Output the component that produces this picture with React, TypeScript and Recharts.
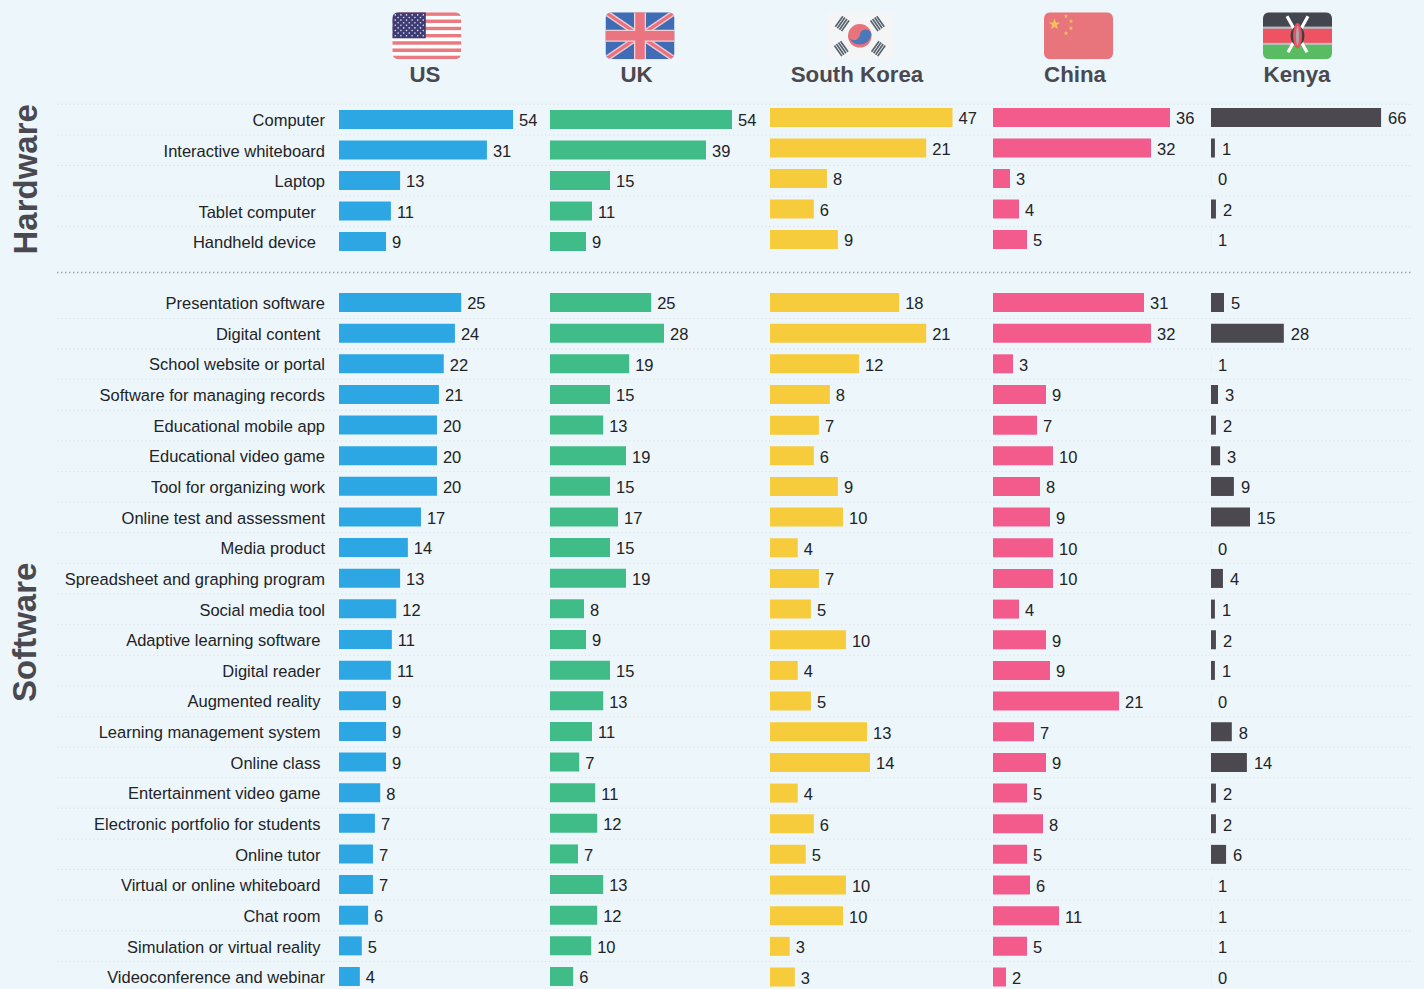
import { Bar, BarChart, CartesianGrid, LabelList, Line, LineChart, ReferenceLine, XAxis, YAxis } from "recharts";

const INK = "#222326";
const HEADING = "#4a494f";
const FONT = '"Liberation Sans", Arial, sans-serif';

// trailing nbsp is in the source labels, it pushes some of them left of the axis
const hardwareItems = [
  "Computer",
  "Interactive whiteboard",
  "Laptop",
  "Tablet computer\u00a0\u00a0",
  "Handheld device\u00a0\u00a0",
];
const softwareItems = [
  "Presentation software",
  "Digital content\u00a0",
  "School website or portal",
  "Software for managing records",
  "Educational mobile app",
  "Educational video game",
  "Tool for organizing work",
  "Online test and assessment",
  "Media product",
  "Spreadsheet and graphing program",
  "Social media tool",
  "Adaptive learning software\u00a0",
  "Digital reader\u00a0",
  "Augmented reality\u00a0",
  "Learning management system\u00a0",
  "Online class\u00a0",
  "Entertainment video game\u00a0",
  "Electronic portfolio for students\u00a0",
  "Online tutor\u00a0",
  "Virtual or online whiteboard\u00a0",
  "Chat room\u00a0",
  "Simulation or virtual reality\u00a0",
  "Videoconference and webinar",
];

// bar lengths as drawn, the printed labels below do not always agree with them
const usBars = [35.9, 30.5, 12.6, 10.7, 9.7, 25.2, 23.9, 21.6, 20.6, 20.2, 20.2, 20.2, 16.9, 14.2, 12.6, 11.8, 10.9, 10.7, 9.7, 9.7, 9.7, 8.5, 7.4, 7, 7, 6, 4.7, 4.3];
const ukBars = [45.5, 39, 15, 10.5, 9, 25.3, 28.5, 19.8, 15, 13.3, 19, 15, 17, 15, 19, 8.5, 9, 15, 13.3, 10.5, 7.3, 11.3, 11.8, 7, 13.3, 11.8, 10.3, 5.8];
const koreaBars = [25, 21.4, 7.8, 6, 9.3, 17.7, 21.4, 12.2, 8.2, 6.7, 6, 9.3, 10, 3.8, 6.7, 5.6, 10.4, 3.8, 5.6, 13.3, 13.7, 3.8, 6, 4.9, 10.4, 10, 2.7, 3.4];
const chinaBars = [35.4, 31.6, 3.4, 5.2, 6.8, 30.2, 31.6, 4, 10.6, 8.8, 12, 9.4, 11.4, 12, 12, 5.2, 10.6, 11.4, 25.2, 8.2, 10.6, 6.8, 10, 6.8, 7.4, 13.2, 6.8, 2.6];
const kenyaBars = [65.4, 1.5, 0, 1.9, 0, 5, 28, 0, 2.7, 1.9, 3.5, 8.8, 15, 0, 4.6, 1.5, 1.9, 1.5, 0, 8, 13.8, 1.9, 1.9, 5.8, 0, 0, 0, 0];

const usLabels = [54, 31, 13, 11, 9, 25, 24, 22, 21, 20, 20, 20, 17, 14, 13, 12, 11, 11, 9, 9, 9, 8, 7, 7, 7, 6, 5, 4];
const ukLabels = [54, 39, 15, 11, 9, 25, 28, 19, 15, 13, 19, 15, 17, 15, 19, 8, 9, 15, 13, 11, 7, 11, 12, 7, 13, 12, 10, 6];
const koreaLabels = [47, 21, 8, 6, 9, 18, 21, 12, 8, 7, 6, 9, 10, 4, 7, 5, 10, 4, 5, 13, 14, 4, 6, 5, 10, 10, 3, 3];
const chinaLabels = [36, 32, 3, 4, 5, 31, 32, 3, 9, 7, 10, 8, 9, 10, 10, 4, 9, 9, 21, 7, 9, 5, 8, 5, 6, 11, 5, 2];
const kenyaLabels = [66, 1, 0, 2, 1, 5, 28, 1, 3, 2, 3, 9, 15, 0, 4, 1, 2, 1, 0, 8, 14, 2, 2, 6, 1, 1, 1, 0];

// row boundaries that carry a dotted rule, counted in rows from the top of the table
const ruleRows = [0, 1, 2, 3, 4, 7, 8, 9, 10, 11, 12, 13, 14, 15, 16, 17, 18, 19, 20, 21, 22, 23, 24, 25, 26, 27, 28];

const UPPER_ROWS = { hardwareTop: 104.25, hardwareRow: 30.5, softwareTop: 287.18, softwareRow: 30.636 };
const LOWER_ROWS = { hardwareTop: 102.25, hardwareRow: 30.5, softwareTop: 286.67, softwareRow: 30.66 };

const columns = [
  { id: "us", color: "#2ca7e3", left: 339, width: 210, max: 43.3, gap: 6, bars: usBars, labels: usLabels, rows: UPPER_ROWS },
  { id: "uk", color: "#3fbc88", left: 549.7, width: 220, max: 55, gap: 6, bars: ukBars, labels: ukLabels, rows: UPPER_ROWS },
  { id: "korea", color: "#f6cb3c", left: 770, width: 223, max: 30.55, gap: 6, bars: koreaBars, labels: koreaLabels, rows: LOWER_ROWS },
  { id: "china", color: "#f25b8c", left: 993, width: 218, max: 43.6, gap: 6, bars: chinaBars, labels: chinaLabels, rows: LOWER_ROWS },
  { id: "kenya", color: "#4b4850", left: 1211, width: 213, max: 81.9, gap: 7, bars: kenyaBars, labels: kenyaLabels, rows: LOWER_ROWS },
];

const LABEL_GUTTER = 282;

function Section({ items, bars, labels, color, top, left, width, max, gap, rowHeight, withLabels }: any) {
  // recharts drops the label of a bar with no length, so keep empty ones a hair above zero
  const data = items.map((item: string, i: number) => ({ item, value: bars[i] || 0.01, label: labels[i] }));
  const chartLeft = withLabels ? left - LABEL_GUTTER : left;
  return (
    <div style={{ position: "absolute", left: chartLeft, top }}>
      <BarChart
        layout="vertical"
        width={withLabels ? width + LABEL_GUTTER : width}
        height={rowHeight * items.length}
        data={data}
        margin={{ top: 0, right: 0, bottom: 0, left: 0 }}
      >
        <XAxis type="number" domain={[0, max]} hide />
        <YAxis
          type="category"
          dataKey="item"
          hide={!withLabels}
          width={LABEL_GUTTER}
          interval={0}
          axisLine={false}
          tickLine={false}
          tickMargin={8}
          tick={{ fontSize: 16.5, fill: INK, dy: 1 }}
        />
        <Bar dataKey="value" fill={color} barSize={19} isAnimationActive={false}>
          <LabelList dataKey="label" position="right" offset={gap} fill={INK} fontSize={16.5} dy={1} />
        </Bar>
      </BarChart>
    </div>
  );
}

function RowRules() {
  const data = ruleRows.map((row) => ({ row }));
  return (
    <div style={{ position: "absolute", left: 57, top: 100 }}>
      <LineChart width={1356} height={892} data={data} margin={{ top: 4.25, right: 0, bottom: 0, left: 0 }}>
        <XAxis dataKey="row" hide />
        <YAxis type="number" domain={[0, 29]} ticks={ruleRows} interval={0} reversed hide />
        <CartesianGrid horizontal vertical={false} stroke="#dbe4ea" strokeDasharray="1.5 2.5" />
        <ReferenceLine y={5.5} stroke="#9aa5ac" strokeWidth={1.5} strokeDasharray="1.5 2.5" />
        <Line dataKey="row" stroke="none" dot={false} isAnimationActive={false} />
      </LineChart>
    </div>
  );
}

function FlagFrame({ id, x, children }: any) {
  return (
    <g transform={`translate(${x} 12.3)`} style={{ filter: "blur(0.3px)" }}>
      <clipPath id={id}>
        <rect width={69} height={47} rx={6} />
      </clipPath>
      <g clipPath={`url(#${id})`}>{children}</g>
    </g>
  );
}

function UsFlag({ x }: { x: number }) {
  const stripes = Array.from({ length: 13 }, (_, i) => i);
  const starRows = [0, 1, 2, 3, 4, 5, 6, 7, 8];
  const starCols = [0, 1, 2, 3, 4, 5];
  return (
    <FlagFrame id="flag-us" x={x}>
      <rect width={69} height={47} fill="#fff" />
      {stripes.map((i) => (
        <rect key={i} y={(i * 47) / 13} width={69} height={47 / 13} fill={i % 2 ? "#fff" : "#e97a80"} />
      ))}
      <rect width={33.5} height={26} fill="#3e3c74" />
      {starRows.map((r) =>
        starCols.slice(0, r % 2 ? 5 : 6).map((c) => (
          <circle key={`${r}-${c}`} cx={3 + c * 5.6 + (r % 2 ? 2.8 : 0)} cy={2.6 + r * 2.6} r={0.8} fill="#e8e6f2" />
        )),
      )}
    </FlagFrame>
  );
}

function UkFlag({ x }: { x: number }) {
  return (
    <FlagFrame id="flag-uk" x={x}>
      <rect width={69} height={47} fill="#3f6cb4" />
      <path d="M0 0L69 47M69 0L0 47" stroke="#efc6cd" strokeWidth={6} />
      <path d="M0 0L69 47M69 0L0 47" stroke="#e9707d" strokeWidth={3} />
      <path d="M34.5 0V47M0 23.5H69" stroke="#f0d2d7" strokeWidth={12} />
      <path d="M34.5 0V47M0 23.5H69" stroke="#ea7480" strokeWidth={9.5} />
    </FlagFrame>
  );
}

function KoreaFlag({ x }: { x: number }) {
  const trigrams = [
    { cx: 16.4, cy: 11, angle: -55 },
    { cx: 52.6, cy: 11, angle: 55 },
    { cx: 16.4, cy: 36, angle: 55 },
    { cx: 52.6, cy: 36, angle: -55 },
  ];
  return (
    <FlagFrame id="flag-korea" x={x}>
      <rect width={69} height={47} fill="#f4f5f7" />
      {trigrams.map((t, i) => (
        <g key={i} transform={`rotate(${t.angle} ${t.cx} ${t.cy})`}>
          {[-4, -1.5, 1, 3.5].map((d) => (
            <rect key={d} x={t.cx - 6.5} y={t.cy + d} width={13} height={1.7} fill="#56626c" />
          ))}
        </g>
      ))}
      <circle cx={34.5} cy={23.5} r={11.8} fill="#e8737c" />
      <path d="M22.8 22A11.8 11.8 0 0 0 46.2 22A5.9 5.9 0 0 0 34.5 23A5.9 5.9 0 0 1 22.8 22Z" fill="#4b78b9" />
    </FlagFrame>
  );
}

const STAR = "M0 -6L1.5 -1.9L5.7 -1.9L2.3 0.7L3.5 4.9L0 2.4L-3.5 4.9L-2.3 0.7L-5.7 -1.9L-1.5 -1.9Z";

function ChinaFlag({ x }: { x: number }) {
  const smallStars = [
    { cx: 22, cy: 4 },
    { cx: 27, cy: 9 },
    { cx: 27, cy: 16 },
    { cx: 22, cy: 21 },
  ];
  return (
    <FlagFrame id="flag-china" x={x}>
      <rect width={69} height={47} fill="#e8757c" />
      <path d={STAR} transform="translate(10.5 12)" fill="#f3bf62" />
      {smallStars.map((s, i) => (
        <path key={i} d={STAR} transform={`translate(${s.cx} ${s.cy}) scale(0.42)`} fill="#f3bf62" />
      ))}
    </FlagFrame>
  );
}

function KenyaFlag({ x }: { x: number }) {
  return (
    <FlagFrame id="flag-kenya" x={x}>
      <rect width={69} height={14.5} fill="#43464f" />
      <rect y={14.5} width={69} height={18} fill="#b5bbc2" />
      <rect y={16.5} width={69} height={14} fill="#ef5361" />
      <rect y={32.5} width={69} height={14.5} fill="#59bb62" />
      <path d="M24 4L44 40M45 4L25 40" stroke="#fff" strokeWidth={3.2} />
      <ellipse cx={34.5} cy={23.5} rx={7} ry={10} fill="#3d3e48" />
      <ellipse cx={34.5} cy={23.5} rx={4.4} ry={12.7} fill="#e8525f" />
      <ellipse cx={34.5} cy={23.5} rx={1.4} ry={10} fill="#a7adb6" />
    </FlagFrame>
  );
}

const headers = [
  { name: "US", x: 425 },
  { name: "UK", x: 636.5 },
  { name: "South Korea", x: 857 },
  { name: "China", x: 1075 },
  { name: "Kenya", x: 1297 },
];

function Overlay() {
  return (
    <svg width={1424} height={989} style={{ position: "absolute", left: 0, top: 0, pointerEvents: "none" }}>
      <UsFlag x={392.3} />
      <UkFlag x={605.5} />
      <KoreaFlag x={825.3} />
      <ChinaFlag x={1044} />
      <KenyaFlag x={1263} />
      {headers.map((h) => (
        <text key={h.name} x={h.x} y={82} textAnchor="middle" fontSize={22.3} fontWeight={700} fill={HEADING}>
          {h.name}
        </text>
      ))}
      <text transform="translate(36.5 254.5) rotate(-90)" fontSize={33} fontWeight={700} fill={HEADING}>
        Hardware
      </text>
      <text transform="translate(36 702) rotate(-90)" fontSize={33} fontWeight={700} fill={HEADING}>
        Software
      </text>
    </svg>
  );
}

export default function App() {
  return (
    <div
      style={{
        position: "absolute",
        left: 0,
        top: 0,
        width: 1424,
        height: 989,
        overflow: "hidden",
        background: "#edf6fb",
        fontFamily: FONT,
      }}
    >
      <RowRules />
      {columns.map((col, i) => (
        <div key={col.id}>
          <Section
            items={hardwareItems}
            bars={col.bars.slice(0, hardwareItems.length)}
            labels={col.labels.slice(0, hardwareItems.length)}
            color={col.color}
            top={col.rows.hardwareTop}
            rowHeight={col.rows.hardwareRow}
            left={col.left}
            width={col.width}
            max={col.max}
            gap={col.gap}
            withLabels={i === 0}
          />
          <Section
            items={softwareItems}
            bars={col.bars.slice(hardwareItems.length)}
            labels={col.labels.slice(hardwareItems.length)}
            color={col.color}
            top={col.rows.softwareTop}
            rowHeight={col.rows.softwareRow}
            left={col.left}
            width={col.width}
            max={col.max}
            gap={col.gap}
            withLabels={i === 0}
          />
        </div>
      ))}
      <Overlay />
    </div>
  );
}
